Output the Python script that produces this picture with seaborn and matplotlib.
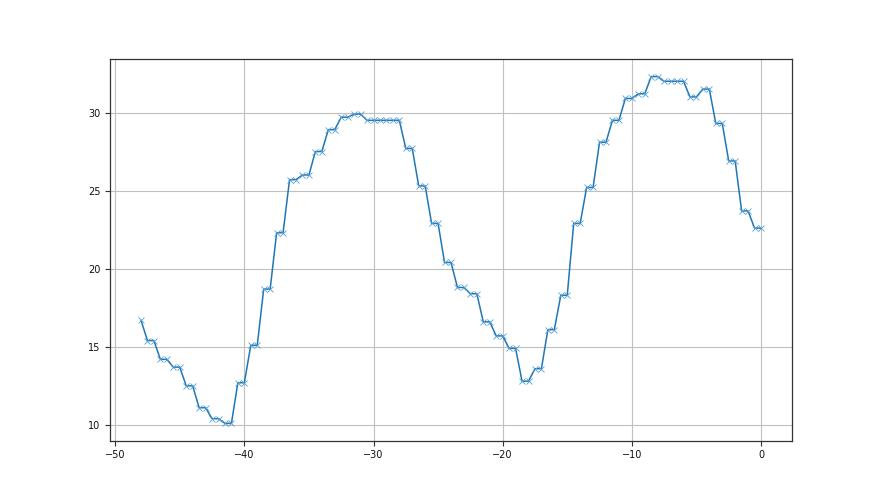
import numpy as np
import pandas as pd
import matplotlib
matplotlib.use("Agg")
import matplotlib.pyplot as plt
import seaborn as sns

x_first = -48.0
y_first = 16.7
pair_values = [15.4, 14.2, 13.7, 12.5, 11.1, 10.4, 10.1, 12.7, 15.1, 18.7,
               22.3, 25.7, 26.0, 27.5, 28.9, 29.7, 29.9, 29.5, 29.5, 29.5,
               27.7, 25.3, 22.9, 20.4, 18.8, 18.4, 16.6, 15.7, 14.9, 12.8,
               13.6, 16.1, 18.3, 22.9, 25.2, 28.1, 29.5, 30.9, 31.2, 32.3,
               32.0, 32.0, 31.0, 31.5, 29.3, 26.9, 23.7, 22.6]
pair_starts = list(range(-47, 1))  # each pair: (k-0.5, k)

xs = [x_first]
ys = [y_first]
for k, v in zip(pair_starts, pair_values):
    xs += [k - 0.5, k]
    ys += [v, v]

df = pd.DataFrame({"x": xs, "y": ys})

sns.set_style("white")
plt.rcParams["font.family"] = ["DejaVu Sans"]
fig = plt.figure(figsize=(8.8, 4.95), dpi=100)
ax = fig.add_subplot(111)
sns.lineplot(data=df, x="x", y="y", ax=ax, marker="x", markersize=4.5,
             linewidth=1.1, color="#1f77b4", markeredgecolor="#5a9fd4",
             markeredgewidth=0.6, estimator=None, sort=False)
ax.set_xlabel("")
ax.set_ylabel("")
ax.set_xlim(-50.4, 2.4)
ax.set_ylim(9.0, 33.4)
ax.set_xticks([-50, -40, -30, -20, -10, 0])
ax.set_yticks([10, 15, 20, 25, 30])
ax.grid(True, color="#c0c0c0", linewidth=0.8)
ax.tick_params(labelsize=7, length=3.5, width=0.8, color="#333333",
               labelcolor="#111111", direction="out", left=True, bottom=True)
for s in ax.spines.values():
    s.set_color("#333333")
    s.set_linewidth(0.9)
fig.savefig("out.png", dpi=100)
